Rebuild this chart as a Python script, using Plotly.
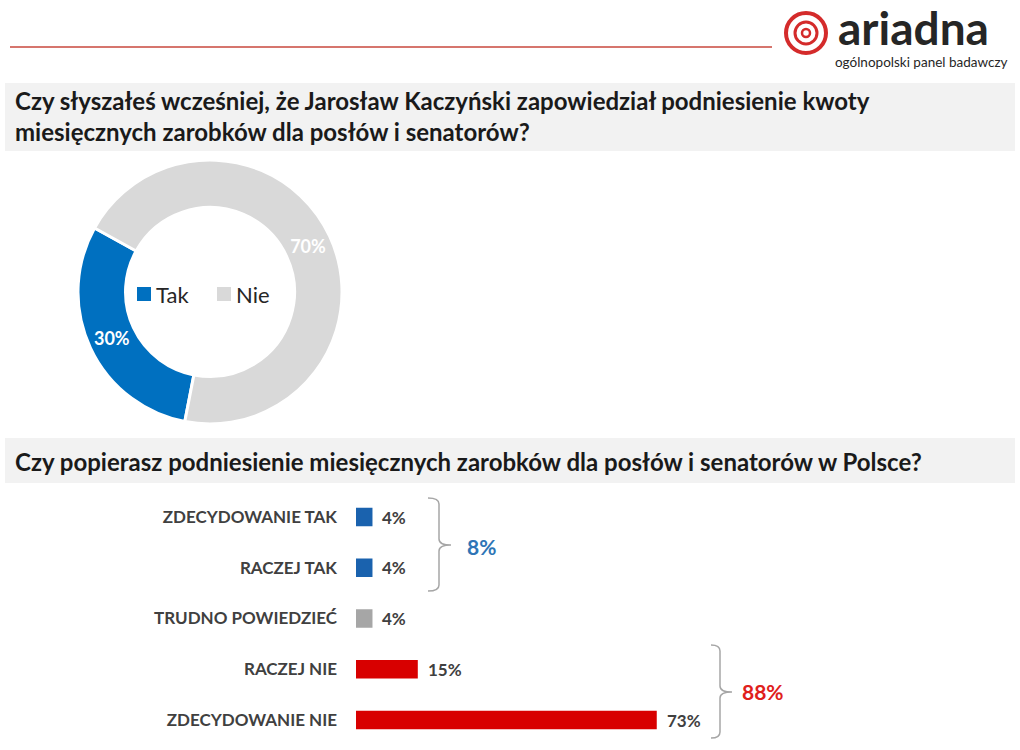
import plotly.graph_objects as go

W, H = 1020, 750

# ---- data ----
pie_labels = ["Tak", "Nie"]
pie_values = [30, 70]
pie_colors = ["#0070c0", "#d9d9d9"]

bar_categories = ["ZDECYDOWANIE TAK", "RACZEJ TAK", "TRUDNO POWIEDZIEĆ", "RACZEJ NIE", "ZDECYDOWANIE NIE"]
bar_values = [4, 4, 4, 15, 73]
bar_colors = ["#1a62ae", "#1a62ae", "#a6a6a6", "#d80000", "#d80000"]

title1 = "Czy słyszałeś wcześniej, że Jarosław Kaczyński zapowiedział podniesienie kwoty<br>miesięcznych zarobków dla posłów i senatorów?"
title2 = "Czy popierasz podniesienie miesięcznych zarobków dla posłów i senatorów w Polsce?"

FONT = "Lato"

def px(x):
    return x / W

def py(y):
    return 1 - y / H

fig = go.Figure()

# donut
fig.add_trace(go.Pie(
    labels=pie_labels, values=pie_values, sort=False, direction="clockwise",
    rotation=191, hole=0.64,
    marker=dict(colors=pie_colors, line=dict(color="white", width=3)),
    texttemplate="%{value}%", textposition="inside", insidetextorientation="horizontal",
    textfont=dict(color="white", size=18, family=FONT, weight="bold"),
    domain=dict(x=[px(78), px(342)], y=[py(424), py(160)]),
    hoverinfo="label+percent", showlegend=False,
))

# legend in the donut centre (drawn manually for larger markers)
leg_x = [137, 217]
for lx, lab, col in zip(leg_x, pie_labels, pie_colors):
    fig.add_shape(type="rect", xref="paper", yref="paper", x0=px(lx), x1=px(lx + 14),
                  y0=py(301), y1=py(287), fillcolor=col, line=dict(width=0))
    fig.add_annotation(x=px(lx + 17), y=py(294), xref="paper", yref="paper", text=lab, showarrow=False,
                       xanchor="left", yanchor="middle",
                       font=dict(size=22, color="#262626", family=FONT))

# bars
fig.add_trace(go.Bar(
    x=bar_values, y=list(range(len(bar_values))), orientation="h",
    marker=dict(color=bar_colors, line=dict(width=0)), width=0.36,
    showlegend=False, hoverinfo="x",
))

# value labels
for i, v in enumerate(bar_values):
    fig.add_annotation(x=v, y=i, xref="x", yref="y", text=f"{v}%", showarrow=False,
                       xanchor="left", xshift=8,
                       font=dict(size=17, color="#404040", family=FONT, weight="bold"))

# group totals
yes_total = bar_values[0] + bar_values[1]
no_total = bar_values[3] + bar_values[4]

XU = 4.12  # px per unit
YU = 50.75
def dx(p):
    return (p - 356) / XU
def dy(p):
    return (p - 517) / YU

def brace(x0, x1, xn, y0, ym, y1):
    r = 0.12
    return (f"M {dx(x0)},{dy(y0)} Q {dx(x1)},{dy(y0)} {dx(x1)},{dy(y0)+r} "
            f"L {dx(x1)},{dy(ym)-r} Q {dx(x1)},{dy(ym)} {dx(xn)},{dy(ym)} "
            f"Q {dx(x1)},{dy(ym)} {dx(x1)},{dy(ym)+r} "
            f"L {dx(x1)},{dy(y1)-r} Q {dx(x1)},{dy(y1)} {dx(x0)},{dy(y1)}")

fig.add_shape(type="path", xref="x", yref="y", path=brace(428, 439, 451, 498, 545, 591),
              line=dict(color="#a6a6a6", width=1.5))
fig.add_shape(type="path", xref="x", yref="y", path=brace(711, 720, 732, 645, 692, 738),
              line=dict(color="#a6a6a6", width=1.5))
fig.add_annotation(x=dx(481), y=dy(546), xref="x", yref="y", text=f"{yes_total}%", showarrow=False,
                   font=dict(size=21, color="#2e75b6", family=FONT, weight="bold"))
fig.add_annotation(x=dx(763), y=dy(691), xref="x", yref="y", text=f"{no_total}%", showarrow=False,
                   font=dict(size=21, color="#e0201b", family=FONT, weight="bold"))

# background boxes & header
fig.add_shape(type="rect", xref="paper", yref="paper", x0=px(5), x1=px(1015), y0=py(151), y1=py(83),
              fillcolor="#f2f2f2", line=dict(width=0), layer="below")
fig.add_shape(type="rect", xref="paper", yref="paper", x0=px(5), x1=px(1015), y0=py(483), y1=py(438),
              fillcolor="#f2f2f2", line=dict(width=0), layer="below")
fig.add_shape(type="line", xref="paper", yref="paper", x0=px(10), x1=px(772), y0=py(47), y1=py(47),
              line=dict(color="#c9473d", width=1.5))

fig.add_annotation(x=px(13), y=py(116), xref="paper", yref="paper", text=title1, showarrow=False,
                   xanchor="left", yanchor="middle", align="left",
                   font=dict(size=24, color="#1a1a1a", family=FONT, weight="bold"))
fig.add_annotation(x=px(13), y=py(461), xref="paper", yref="paper", text=title2, showarrow=False,
                   xanchor="left", yanchor="middle", align="left",
                   font=dict(size=24, color="#1a1a1a", family=FONT, weight="bold"))

# logo
cx, cy = 806, 33
fig.add_shape(type="circle", xref="paper", yref="paper", x0=px(cx-20), x1=px(cx+20), y0=py(cy+20), y1=py(cy-20),
              line=dict(color="#d42b2b", width=4))
fig.add_shape(type="circle", xref="paper", yref="paper", x0=px(cx-11), x1=px(cx+11), y0=py(cy+11), y1=py(cy-11),
              line=dict(color="#d42b2b", width=3))
fig.add_shape(type="circle", xref="paper", yref="paper", x0=px(cx-4), x1=px(cx+4), y0=py(cy+4), y1=py(cy-4),
              line=dict(color="#d42b2b", width=2.5))
fig.add_annotation(x=px(836), y=py(27), xref="paper", yref="paper", text="ariadna", showarrow=False,
                   xanchor="left", yanchor="middle",
                   font=dict(size=46, color="#262626", family=FONT, weight="bold"))
fig.add_annotation(x=px(1010), y=py(62), xref="paper", yref="paper", text="ogólnopolski panel badawczy",
                   showarrow=False, xanchor="right", yanchor="middle",
                   font=dict(size=13.5, color="#262626", family=FONT))

fig.update_layout(
    width=W, height=H, margin=dict(l=0, r=0, t=0, b=0),
    paper_bgcolor="white", plot_bgcolor="white",
    font=dict(family=FONT, color="#262626"),
    showlegend=False,
    xaxis=dict(domain=[px(356), px(1015)], range=[0, (1015 - 356) / XU], visible=False, fixedrange=True),
    yaxis=dict(domain=[py(517 + 4.5 * YU), py(517 - 0.5 * YU)], range=[4.5, -0.5],
               tickvals=list(range(len(bar_categories))), ticktext=bar_categories,
               showgrid=False, zeroline=False, showline=False, ticks="",
               ticklabelstandoff=18,
               tickfont=dict(size=17, color="#404040", family=FONT, weight="bold"), fixedrange=True),
)

fig.write_html("out.html")
